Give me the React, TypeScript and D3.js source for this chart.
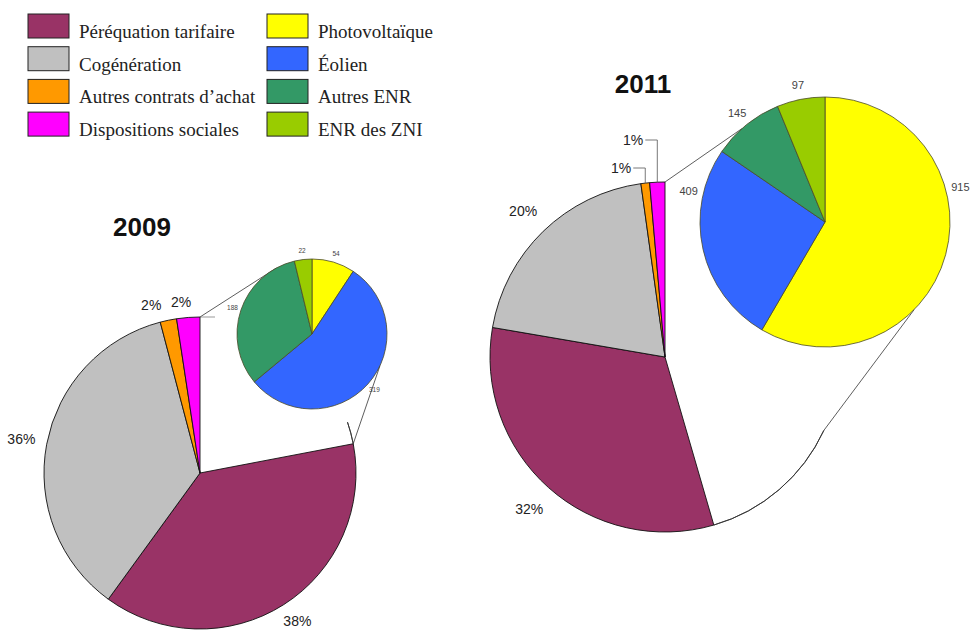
import React from 'react';
import * as d3 from 'd3';

// répartition des charges (en %) et détail ENR (en M€)
const mainCategories = ['ENR', 'Péréquation tarifaire', 'Cogénération', 'Autres contrats d’achat', 'Dispositions sociales'];
const mainColors = ['#ffffff', '#993366', '#c0c0c0', '#ff9900', '#ff00ff'];
const shares2009 = [22, 38, 35.9, 1.7, 2.4];
const shares2011 = [45.5, 32.2, 20.1, 0.8, 1.4];

const enrCategories = ['Photovoltaïque', 'Éolien', 'Autres ENR', 'ENR des ZNI'];
const enrColors = ['#ffff00', '#3366ff', '#339966', '#99cc00'];
const enr2009 = [54, 319, 188, 22];
const enr2011 = [915, 409, 145, 97];

const legendLeft = ['Péréquation tarifaire', 'Cogénération', 'Autres contrats d’achat', 'Dispositions sociales'];
const legendLeftColors = ['#993366', '#c0c0c0', '#ff9900', '#ff00ff'];

const W = 971, H = 630;
const deg = Math.PI / 180;

const charts = [
  {
    year: '2009', shares: shares2009, enr: enr2009,
    cx: 200, cy: 473, r: 156, sx: 312, sy: 334, sr: 75,
    title: [142, 236],
    smallFont: 6.5, smallLabelAngle: [null, null, null, null],
    connTop: 331.6, connBottom: 115, arcFrom: 71,
    tick: true, leader: false, smallNudge: [0, 0, 0, -14, -6]
  },
  {
    year: '2011', shares: shares2011, enr: enr2011,
    cx: 665, cy: 357, r: 175, sx: 825, sy: 222, sr: 125,
    title: [643, 93],
    smallFont: 11, smallLabelAngle: [75.5, 282.7, null, null],
    connTop: 318.3, connBottom: 134.5, arcFrom: 114.8,
    tick: false, leader: true, smallNudge: [0, 0, 0, 0, 0]
  }
];

const pt = (cx: number, cy: number, r: number, a: number) =>
  [cx + r * Math.sin(a), cy - r * Math.cos(a)];

function YearPies({ c }: { c: any }) {
  const pie = d3.pie<number>().sort(null).value(d => d);
  const arcs = pie(c.shares);
  const big = d3.arc<d3.PieArcDatum<number>>().innerRadius(0).outerRadius(c.r);
  const sArcs = pie(c.enr);
  const small = d3.arc<d3.PieArcDatum<number>>().innerRadius(0).outerRadius(c.sr);
  const enrEnd = arcs[0].endAngle;

  const top = pt(c.cx, c.cy, c.r, 0);
  const smallTop = pt(c.sx, c.sy, c.sr, c.connTop * deg);
  const bigEnd = c.tick ? pt(c.cx, c.cy, c.r, enrEnd) : pt(c.cx, c.cy, c.r, c.arcFrom * deg);
  const smallBot = pt(c.sx, c.sy, c.sr, c.connBottom * deg);
  const partArc = d3.arc()({ innerRadius: c.r, outerRadius: c.r, startAngle: c.arcFrom * deg, endAngle: enrEnd } as any);

  return (
    <g>
      <text x={c.title[0]} y={c.title[1]} textAnchor="middle" fontFamily="Liberation Sans, Arial, sans-serif"
        fontWeight="bold" fontSize={26} fill="#111">{c.year}</text>
      <g transform={`translate(${c.cx},${c.cy})`}>
        {arcs.map((a, i) => (
          <path key={i} d={big(a) || ''} fill={mainColors[i]} stroke={i === 0 ? 'none' : '#111'} strokeWidth={0.9} />
        ))}
        <path d={partArc || ''} fill="none" stroke="#333" strokeWidth={0.9} />
        {arcs.map((a, i) => {
          if (i === 0) return null;
          const v = c.shares[i];
          const mid = (a.startAngle + a.endAngle) / 2;
          const lab = Math.round(v) + '%';
          if (v >= 5) {
            const [x, y] = pt(0, 0, c.r * 1.165, mid);
            const yy = Math.min(y, H - c.cy - 9);
            return <text key={i} x={x} y={yy} dy="0.35em" textAnchor="middle" fontSize={14}
              fontFamily="Liberation Sans, Arial, sans-serif" fill="#222">{lab}</text>;
          }
          if (c.leader) {
            const [x0, y0] = pt(0, 0, c.r, mid);
            const h = i === 3 ? 14 : 42;
            const y1 = -c.r - h;
            return (
              <g key={i}>
                <polyline points={`${x0},${y0} ${x0},${y1} ${x0 - 12},${y1}`} fill="none" stroke="#555" strokeWidth={0.8} />
                <text x={x0 - 14} y={y1} dy="0.35em" textAnchor="end" fontSize={14}
                  fontFamily="Liberation Sans, Arial, sans-serif" fill="#222">{lab}</text>
              </g>
            );
          }
          const [x, y] = pt(0, 0, c.r * 1.1, mid);
          return <text key={i} x={x + c.smallNudge[i]} y={y} dy="0.35em" textAnchor="middle" fontSize={14}
            fontFamily="Liberation Sans, Arial, sans-serif" fill="#222">{lab}</text>;
        })}
      </g>
      {/* liaisons vers le détail ENR */}
      <line x1={top[0]} y1={top[1]} x2={smallTop[0]} y2={smallTop[1]} stroke="#333" strokeWidth={0.8} />
      <line x1={bigEnd[0]} y1={bigEnd[1]} x2={smallBot[0]} y2={smallBot[1]} stroke="#333" strokeWidth={0.8} />
      {c.tick && <line x1={top[0]} y1={top[1]} x2={top[0] + 15} y2={top[1]} stroke="#555" strokeWidth={0.6} />}
      <g transform={`translate(${c.sx},${c.sy})`}>
        {sArcs.map((a, i) => (
          <path key={i} d={small(a) || ''} fill={enrColors[i]} stroke="#4a4a2a" strokeWidth={0.8} />
        ))}
        {sArcs.map((a, i) => {
          const ang = c.smallLabelAngle[i] != null ? c.smallLabelAngle[i] * deg : (a.startAngle + a.endAngle) / 2;
          const [x, y] = pt(0, 0, c.sr + c.smallFont * 1.35, ang);
          return <text key={i} x={x} y={y} dy="0.35em" textAnchor="middle" fontSize={c.smallFont}
            fontFamily="Liberation Sans, Arial, sans-serif" fill="#444">{c.enr[i]}</text>;
        })}
      </g>
    </g>
  );
}

export default function App() {
  const rowY = d3.scaleLinear().domain([0, 1]).range([14, 46.7]);
  return (
    <svg width={W} height={H} style={{ position: 'absolute', left: 0, top: 0, background: '#fff' }}>
      <rect width={W} height={H} fill="#fff" />
      {legendLeft.map((name, i) => (
        <g key={name}>
          <rect x={28} y={rowY(i)} width={41} height={24} fill={legendLeftColors[i]} stroke="#222" strokeWidth={1} />
          <text x={79} y={rowY(i) + 24} fontFamily="Liberation Serif, Times New Roman, serif" fontSize={19} fill="#222">{name}</text>
        </g>
      ))}
      {enrCategories.map((name, i) => (
        <g key={name}>
          <rect x={267} y={rowY(i)} width={41} height={24} fill={enrColors[i]} stroke="#222" strokeWidth={1} />
          <text x={318} y={rowY(i) + 24} fontFamily="Liberation Serif, Times New Roman, serif" fontSize={19} fill="#222">{name}</text>
        </g>
      ))}
      {charts.map(c => <YearPies key={c.year} c={c} />)}
    </svg>
  );
}
